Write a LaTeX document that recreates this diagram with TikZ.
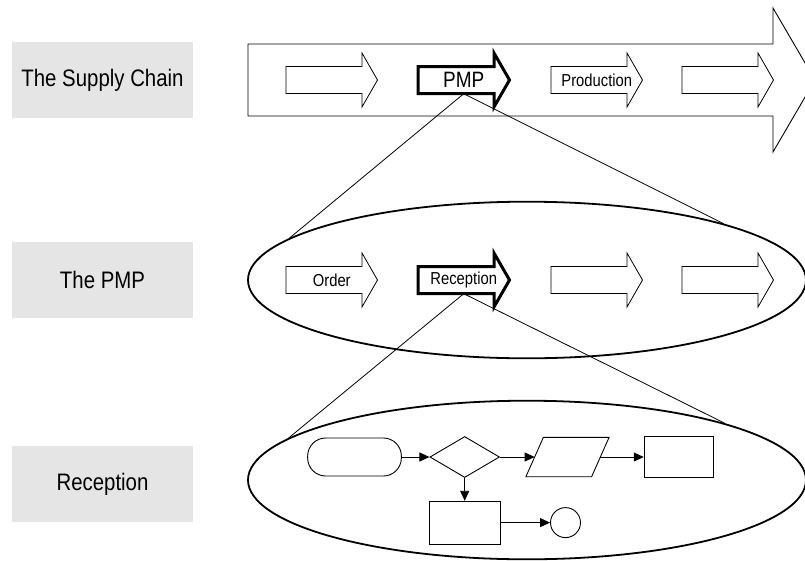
\documentclass[tikz,border=0pt]{standalone}
\usepackage{fontspec}
\usepackage{graphicx}
\setmainfont{Liberation Sans}
\usetikzlibrary{shapes.geometric,arrows.meta}
\definecolor{labelgray}{RGB}{229,229,229}

% labels are set slightly taller than the font's own proportions
\newcommand\tallt[1]{\scalebox{1}[1.17]{#1}}

\tikzset{
  levelbox/.style={fill=labelgray, minimum width=181pt, minimum height=76pt,
    inner sep=0pt, font=\fontsize{20.4}{24}\selectfont},
  stage/.style={draw, line width=0.8pt, fill=white, line join=miter},
  stagekey/.style={draw, line width=3pt, fill=white, line join=miter},
  stagelabel/.style={inner sep=0pt, minimum width=91.5pt, minimum height=27pt,
    font=\fontsize{14.8}{17}\selectfont},
  zoomline/.style={line width=0.8pt},
  phase/.style={draw, ellipse, line width=1.8pt, minimum width=558pt, inner sep=0pt},
  fbox/.style={draw, line width=0.9pt, inner sep=0pt},
  flow/.style={line width=0.9pt, -{Triangle[length=10pt,width=9pt]}},
}

% block arrow: #1 style, #2 left x, #3 centre y
\newcommand\stagearrow[3]{%
  \draw[#1] (#2,#3-13.5) -- ++(76,0) -- ++(0,-13.5) -- ++(15.5,27)
    -- ++(-15.5,27) -- ++(0,-13.5) -- ++(-76,0) -- cycle;
}

\begin{document}
\begin{tikzpicture}[x=1pt,y=-1pt]
  \clip (0,0) rectangle (805,560);
  \fill[white] (0,0) rectangle (805,560);

  % level labels
  \node[levelbox] (lvlchain) at (102.5,80) {\tallt{The Supply Chain}};
  \node[levelbox] (lvlpmp) at (102.5,279.5) {\tallt{The PMP}};
  \node[levelbox] (lvlrec) at (102.5,484) {\tallt{Reception}};

  % supply chain
  \draw[line width=0.9pt, fill=white, line join=miter]
    (248,44) -- (773,44) -- (773,8) -- (815,80) -- (773,152) -- (773,116) -- (248,116) -- cycle;
  \stagearrow{stage}{286}{80}
  \node[stagelabel] (chainA) at (331.75,80) {};
  \stagearrow{stagekey}{418}{80}
  \node[stagelabel, font=\fontsize{19}{22}\selectfont] (pmp) at (463.75,80) {\tallt{PMP}};
  \stagearrow{stage}{551}{80}
  \node[stagelabel] (production) at (596.75,80) {\tallt{Production}};
  \stagearrow{stage}{682}{80}
  \node[stagelabel] (chainD) at (727.75,80) {};

  % PMP phase
  \node[phase, minimum height=156.6pt] (pmpphase) at (527,280) {};
  \stagearrow{stage}{286}{280}
  \node[stagelabel] (order) at (331.75,280) {\tallt{Order}};
  \stagearrow{stagekey}{418}{280}
  \node[stagelabel] (reception) at (463.75,280) {\tallt{Reception}};
  \stagearrow{stage}{551}{280}
  \node[stagelabel] (pmpC) at (596.75,280) {};
  \stagearrow{stage}{682}{280}
  \node[stagelabel] (pmpD) at (727.75,280) {};

  % reception process
  \node[phase, minimum height=158.6pt] (recphase) at (527,480) {};
  \node[fbox, rectangle, rounded corners=18pt, minimum width=93.7pt, minimum height=38pt] (start) at (354.5,457) {};
  \node[fbox, diamond, minimum width=69.6pt, minimum height=41pt] (check) at (464.7,457) {};
  % data (parallelogram) drawn around an invisible frame on its midline
  \node[inner sep=0pt, minimum width=65.3pt, minimum height=39pt] (data) at (567.5,457) {};
  \draw[line width=0.9pt, line join=miter]
    ([xshift=-8.75pt]data.south west) -- ([xshift=8.75pt]data.north west)
    -- ([xshift=8.75pt]data.north east) -- ([xshift=-8.75pt]data.south east) -- cycle;
  \node[fbox, rectangle, minimum width=69pt, minimum height=41pt] (task) at (678.7,457) {};
  \node[fbox, rectangle, minimum width=70.6pt, minimum height=42.7pt] (sub) at (464.7,522.6) {};
  \node[fbox, circle, minimum size=30pt] (stop) at (565.5,522.6) {};

  \draw[flow] (start) -- (check);
  \draw[flow] (check) -- (data.west);
  \draw[flow] (data.east) -- (task);
  \draw[flow] (check) -- (sub);
  \draw[flow] (sub) -- (stop);

  % zoom lines
  \draw[zoomline] (pmp.south) -- (pmpphase.170);
  \draw[zoomline] (pmp.south) -- (pmpphase.16);
  \draw[zoomline] (reception.south) -- (recphase.170);
  \draw[zoomline] (reception.south) -- (recphase.16);
\end{tikzpicture}
\end{document}
